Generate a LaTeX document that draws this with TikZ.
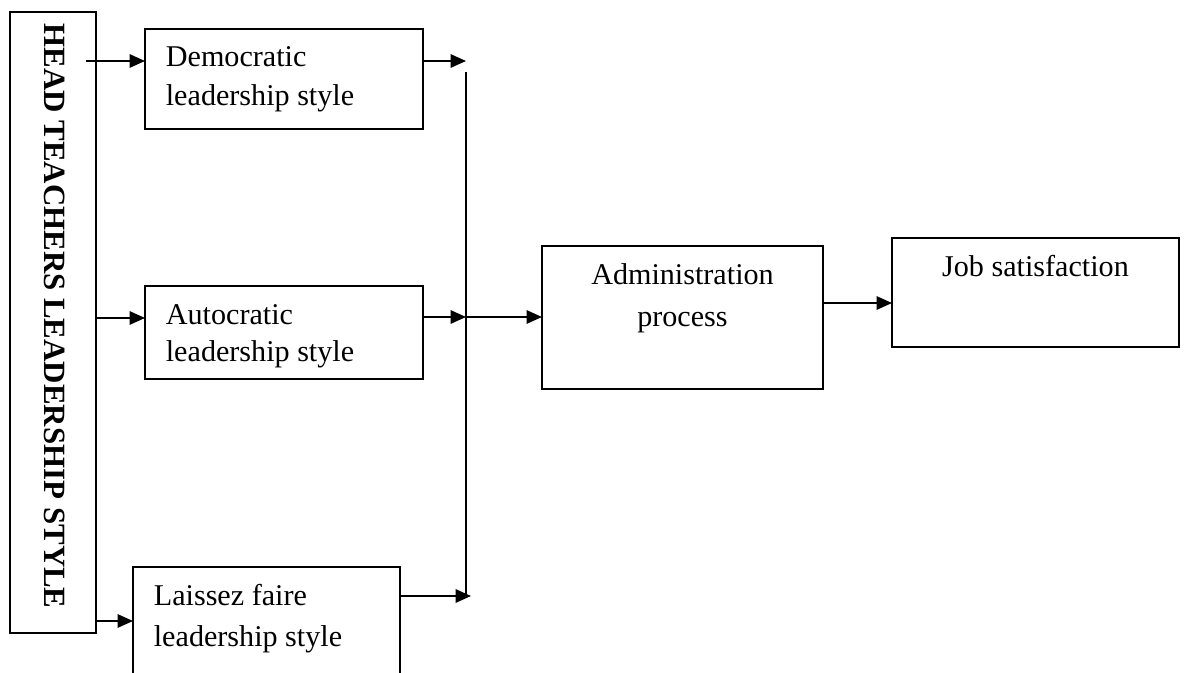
\documentclass[tikz,border=0pt]{standalone}
\usepackage{fontspec}
\setmainfont{Liberation Serif}
\usetikzlibrary{arrows.meta}

\tikzset{every picture/.style={line width=1.3pt}}

\begin{document}
\begin{tikzpicture}[x=0.75pt,y=0.75pt,yscale=-1,xscale=1,
  box/.style={draw, inner sep=0pt, outer sep=0pt},
  arr/.style={-{Triangle[length=11.5pt,width=10pt]}},
  txt/.style={inner sep=0pt, font=\fontsize{22.6}{27}\selectfont}]
%set diagram frame
\clip (0,0) rectangle (1185,673);

%Shape: Rectangle [head]
\node[box, minimum width=86*0.75pt, minimum height=621*0.75pt] (head) at (53,322.5) {};
%Shape: Rectangle [democratic]
\node[box, minimum width=278*0.75pt, minimum height=100*0.75pt] (dem) at (284,79) {};
%Shape: Rectangle [autocratic]
\node[box, minimum width=278*0.75pt, minimum height=93*0.75pt] (aut) at (284,332.5) {};
%Shape: Rectangle [laissez faire]
\node[box, minimum width=267*0.75pt, minimum height=133*0.75pt] (lai) at (266.5,633.5) {};
%Shape: Rectangle [administration]
\node[box, minimum width=281*0.75pt, minimum height=143*0.75pt] (adm) at (682.5,317.5) {};
%Shape: Rectangle [job]
\node[box, minimum width=287*0.75pt, minimum height=109*0.75pt] (job) at (1035.5,292.5) {};

% Text Node
\node[inner sep=0pt, rotate=-90, font=\bfseries\fontsize{23.2}{27}\selectfont] (head-t) at (55,316) {HEAD TEACHERS LEADERSHIP STYLE};
% Text Node
\node[txt, anchor=base west] (dem-t1) at (165,67) {Democratic};
\node[txt, anchor=base west] (dem-t2) at (165,106) {leadership style};
% Text Node
\node[txt, anchor=base west] (aut-t1) at (165,325) {Autocratic};
\node[txt, anchor=base west] (aut-t2) at (165,362) {leadership style};
% Text Node
\node[txt, anchor=base west] (lai-t1) at (153,605) {Laissez faire};
\node[txt, anchor=base west] (lai-t2) at (153,646) {leadership style};
% Text Node
\node[txt, anchor=base] (adm-t1) at (682.5,285) {Administration};
\node[txt, anchor=base] (adm-t2) at (682.5,327) {process};
% Text Node
\node[txt, anchor=base] (job-t) at (1035.5,277) {Job satisfaction};

%Junction
\coordinate (jtop) at (466,72);
\coordinate (jmid) at (466,317);
\coordinate (jbot) at (466,596);
\coordinate (dem-in) at (86,61);
\draw (jtop) -- (jbot);

%Arrows
\draw[arr] (dem-in) -- (dem-in -| dem.west);
\draw[arr] (head.east |- 0,318) -- (aut.west |- 0,318);
\draw[arr] (head.east |- 0,621) -- (lai.west |- 0,621);
\draw[arr] (dem.east |- dem-in) -- (dem-in -| jtop);
\draw[arr] (aut.east |- jmid) -- (jmid);
\draw[arr] (lai.east |- jbot) -- ([xshift=5*0.75pt]jbot);
\draw[arr] (jmid) -- (jmid -| adm.west);
\draw[arr] (adm.east |- 0,303) -- (job.west |- 0,303);

\end{tikzpicture}
\end{document}
